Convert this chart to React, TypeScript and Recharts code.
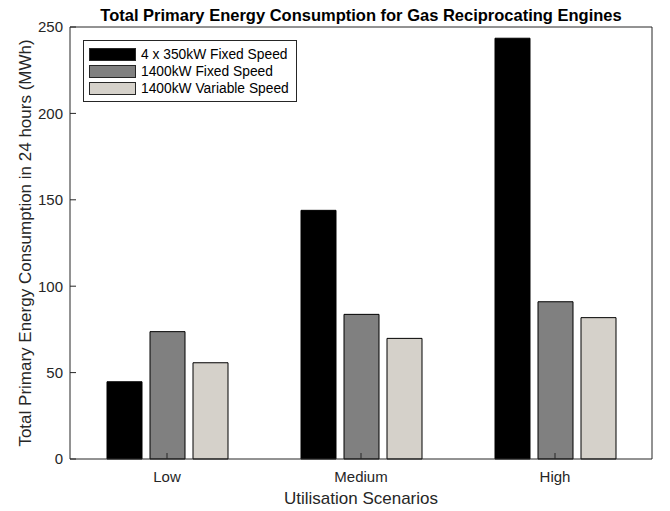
import { Bar, BarChart, Label, XAxis, YAxis } from 'recharts';

const scenarios = ['Low', 'Medium', 'High'];
const fixed4x350 = [44.7, 143.9, 243.5];
const fixed1400 = [73.7, 83.7, 91.0];
const variable1400 = [55.7, 69.8, 81.8];
const yTicks = [0, 50, 100, 150, 200, 250];

const series = [
  { key: 'fixed4x350', name: '4 x 350kW Fixed Speed', fill: '#000000' },
  { key: 'fixed1400', name: '1400kW Fixed Speed', fill: '#808080' },
  { key: 'variable1400', name: '1400kW Variable Speed', fill: '#d5d1ca' },
];

const data = scenarios.map((s, i) => ({
  scenario: s,
  fixed4x350: fixed4x350[i],
  fixed1400: fixed1400[i],
  variable1400: variable1400[i],
}));

const FONT = '"Liberation Sans", Arial, Helvetica, sans-serif';
const AXIS = '#262626';

// legend drawn as a plain box so it doesn't eat into the plot height
function BoxLegend() {
  return (
    <div style={{
      position: 'absolute', left: 83, top: 40,
      border: `1px solid ${AXIS}`, background: '#fff', padding: '5px 7px 4px 5px',
      fontFamily: FONT, fontSize: 13.8, color: '#000',
    }}>
      {series.map((s) => (
        <div key={s.key} style={{ display: 'flex', alignItems: 'center', height: 17 }}>
          <span style={{
            display: 'inline-block', width: 45, height: 11, background: s.fill,
            border: `1px solid ${AXIS}`, marginRight: 5,
          }} />
          <span style={{ whiteSpace: 'nowrap' }}>{s.name}</span>
        </div>
      ))}
    </div>
  );
}

export default function App() {
  return (
    <div style={{ position: 'absolute', left: 0, top: 0, width: 670, height: 511, background: '#fff', fontFamily: FONT }}>
      <div style={{
        position: 'absolute', left: 70, top: 7, width: 582, textAlign: 'center',
        fontSize: 16.5, lineHeight: '17px', fontWeight: 700, color: '#000',
      }}>
        Total Primary Energy Consumption for Gas Reciprocating Engines
      </div>
      <BarChart
        width={670}
        height={511}
        data={data}
        margin={{ top: 26, right: 17, left: 0, bottom: 0 }}
        barSize={35}
        barGap={8}
      >
        <XAxis
          dataKey="scenario"
          height={52}
          stroke={AXIS}
          tickSize={-6}
          tickMargin={18}
          tick={{ fontSize: 15, fill: AXIS, fontFamily: FONT }}
        >
          <Label value="Utilisation Scenarios" position="insideBottom" offset={7}
            style={{ fontSize: 17, fill: AXIS, fontFamily: FONT }} />
        </XAxis>
        <XAxis xAxisId="top" dataKey="scenario" orientation="top" height={1}
          stroke={AXIS} tickSize={-6} tick={false} />
        <YAxis
          type="number"
          domain={[0, 250]}
          ticks={yTicks}
          width={70}
          stroke={AXIS}
          tickSize={-6}
          tickMargin={13}
          tick={{ fontSize: 15, fill: AXIS, fontFamily: FONT }}
        >
          <Label value="Total Primary Energy Consumption in 24 hours (MWh)" angle={-90}
            position="center" dx={-10} style={{ fontSize: 17, fill: AXIS, fontFamily: FONT, textAnchor: 'middle' }} />
        </YAxis>
        <YAxis yAxisId="right" orientation="right" type="number" domain={[0, 250]} ticks={yTicks}
          width={1} stroke={AXIS} tickSize={-6} tick={false} />
        {series.map((s) => (
          <Bar key={s.key} dataKey={s.key} name={s.name} fill={s.fill}
            stroke="#000" strokeWidth={1} isAnimationActive={false} />
        ))}
      </BarChart>
      <BoxLegend />
    </div>
  );
}
